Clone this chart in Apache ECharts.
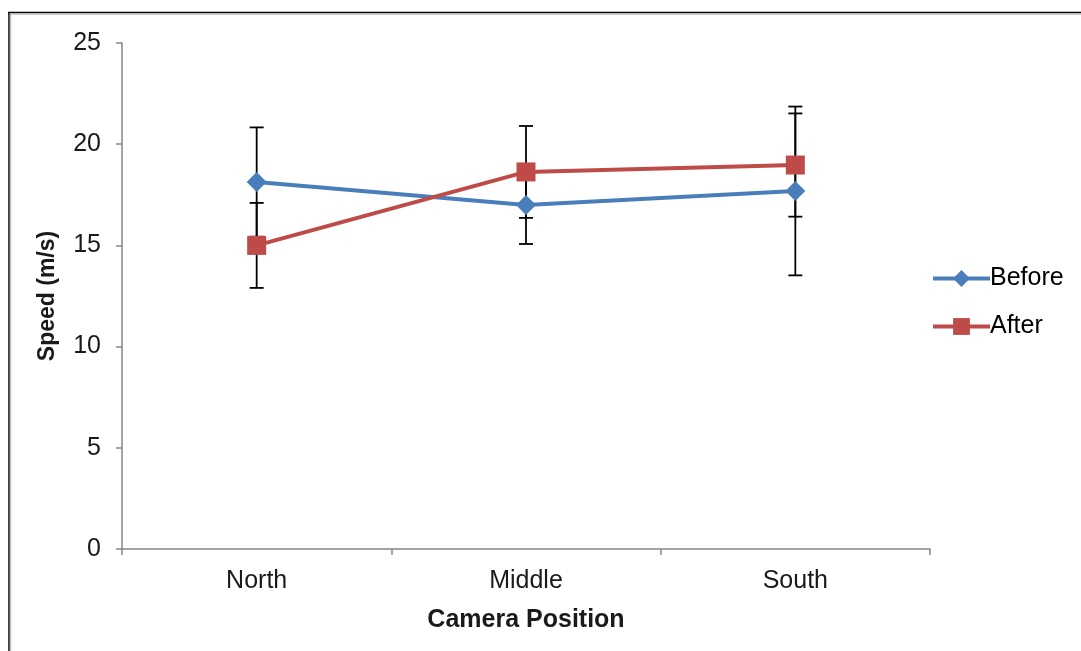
<!DOCTYPE html>
<html>
<head>
<meta charset="utf-8">
<script src="https://cdn.jsdelivr.net/npm/echarts@6/dist/echarts.min.js"></script>
<style>
html,body{margin:0;padding:0;background:#fff;}
#chart{width:1081px;height:651px;}
</style>
</head>
<body>
<div id="chart"></div>
<script>
const categories = ['North', 'Middle', 'South'];
const beforeValues = [18.13, 17.0, 17.69];
const beforeErrors = [2.7, 1.93, 4.17];
const afterValues = [15.0, 18.63, 18.97];
const afterErrors = [2.1, 2.27, 2.55];
const yTicks = [0, 5, 10, 15, 20, 25];

const FONT = '"Liberation Sans", Arial, sans-serif';

function errData(vals, errs) {
  return vals.map((v, i) => [i, v - errs[i], v + errs[i]]);
}

function errRender(params, api) {
  const x = api.value(0);
  const lo = api.coord([x, api.value(1)]);
  const hi = api.coord([x, api.value(2)]);
  const half = 7;
  const style = { stroke: '#000', lineWidth: 1.8 };
  return {
    type: 'group',
    children: [
      { type: 'line', shape: { x1: lo[0], y1: lo[1], x2: hi[0], y2: hi[1] }, style },
      { type: 'line', shape: { x1: lo[0] - half, y1: lo[1], x2: lo[0] + half, y2: lo[1] }, style },
      { type: 'line', shape: { x1: hi[0] - half, y1: hi[1], x2: hi[0] + half, y2: hi[1] }, style }
    ]
  };
}

const chart = echarts.init(document.getElementById('chart'), null, { renderer: 'canvas' });
chart.setOption({
  animation: false,
  backgroundColor: '#fff',
  textStyle: { fontFamily: FONT },
  grid: { left: 122, right: 151, top: 43, bottom: 102, containLabel: false },
  legend: {
    orient: 'vertical',
    left: 931,
    top: 266,
    padding: 0,
    itemWidth: 57,
    itemHeight: 21,
    itemGap: 23,
    data: ['Before', 'After'],
    lineStyle: { width: 4 },
    textStyle: { fontSize: 25, color: '#000', fontFamily: FONT, padding: [0, 0, 0, -5] }
  },
  xAxis: {
    type: 'category',
    data: categories,
    boundaryGap: true,
    axisLine: { lineStyle: { color: '#868686', width: 1.5 } },
    axisTick: { show: true, length: 6, inside: false, lineStyle: { color: '#868686', width: 1.5 } },
    axisLabel: { fontSize: 25, color: '#1a1a1a', margin: 20, fontFamily: FONT },
    name: 'Camera Position',
    nameLocation: 'middle',
    nameGap: 59,
    nameTextStyle: { fontSize: 25, fontWeight: 'bold', color: '#1a1a1a', fontFamily: FONT },
    splitLine: { show: false }
  },
  yAxis: {
    type: 'value',
    min: 0,
    max: 25,
    interval: 5,
    axisLine: { show: true, lineStyle: { color: '#868686', width: 1.5 } },
    axisTick: { show: true, length: 6, lineStyle: { color: '#868686', width: 1.5 } },
    axisLabel: {
      fontSize: 25, color: '#1a1a1a', margin: 21, fontFamily: FONT,
      formatter: v => yTicks.includes(v) ? String(v) : ''
    },
    splitLine: { show: false },
    name: 'Speed (m/s)',
    nameLocation: 'middle',
    nameGap: 63,
    nameTextStyle: { fontSize: 23, fontWeight: 'bold', color: '#1a1a1a', fontFamily: FONT }
  },
  series: [
    {
      name: 'BeforeErr',
      type: 'custom',
      renderItem: errRender,
      data: errData(beforeValues, beforeErrors),
      z: 1,
      encode: { x: 0, y: [1, 2] },
      silent: true
    },
    {
      name: 'AfterErr',
      type: 'custom',
      renderItem: errRender,
      data: errData(afterValues, afterErrors),
      z: 1,
      encode: { x: 0, y: [1, 2] },
      silent: true
    },
    {
      name: 'Before',
      type: 'line',
      data: beforeValues,
      symbol: 'diamond',
      symbolSize: 20,
      z: 3,
      lineStyle: { color: '#4a7ebb', width: 4 },
      itemStyle: { color: '#4a7ebb' }
    },
    {
      name: 'After',
      type: 'line',
      data: afterValues,
      symbol: 'rect',
      symbolSize: 19,
      z: 4,
      lineStyle: { color: '#be4b48', width: 4 },
      itemStyle: { color: '#be4b48' }
    }
  ],
  graphic: [
    { type: 'line', shape: { x1: 8, y1: 12.5, x2: 1081, y2: 12.5 }, style: { stroke: '#000', lineWidth: 1.5 } },
    { type: 'line', shape: { x1: 8, y1: 14, x2: 1081, y2: 14 }, style: { stroke: '#bbb', lineWidth: 1.5 } },
    { type: 'line', shape: { x1: 9, y1: 12, x2: 9, y2: 651 }, style: { stroke: '#000', lineWidth: 1.5 } },
    { type: 'line', shape: { x1: 10.5, y1: 14, x2: 10.5, y2: 651 }, style: { stroke: '#bbb', lineWidth: 1.5 } }
  ]
});
</script>
</body>
</html>
